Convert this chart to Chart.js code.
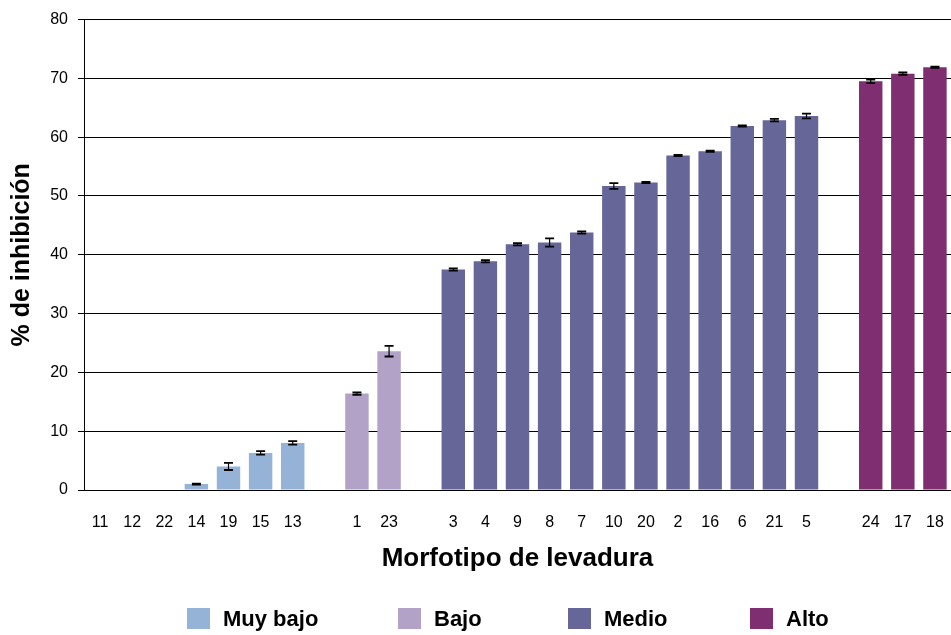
<!DOCTYPE html>
<html lang="es">
<head>
<meta charset="utf-8">
<title>% de inhibición por morfotipo de levadura</title>
<script src="https://cdn.jsdelivr.net/npm/chart.js@4.4.1/dist/chart.umd.min.js"></script>
<style>
  html, body { margin: 0; padding: 0; background: #fff; }
  canvas { display: block; }
</style>
</head>
<body>
<canvas id="inhibicion" width="951" height="635"></canvas>
<script>
// Morfotipos por clase de inhibición, en el orden en que se grafican
const muyBajoIds = ['11', '12', '22', '14', '19', '15', '13'];
const muyBajoValues = [0, 0, 0, 1.0, 4.0, 6.3, 8.0];
const muyBajoErrors = [0, 0, 0, 0.1, 0.6, 0.3, 0.3];

const bajoIds = ['1', '23'];
const bajoValues = [16.4, 23.6];
const bajoErrors = [0.2, 0.9];

const medioIds = ['3', '4', '9', '8', '7', '10', '20', '2', '16', '6', '21', '5'];
const medioValues = [37.5, 38.9, 41.8, 42.1, 43.8, 51.7, 52.3, 56.9, 57.6, 61.9, 62.9, 63.6];
const medioErrors = [0.2, 0.2, 0.2, 0.7, 0.2, 0.5, 0.1, 0.1, 0.1, 0.1, 0.2, 0.4];

const altoIds = ['24', '17', '18'];
const altoValues = [69.5, 70.8, 71.9];
const altoErrors = [0.3, 0.2, 0.1];

const groups = [
  { label: 'Muy bajo', ids: muyBajoIds, values: muyBajoValues, errors: muyBajoErrors, color: '#95b3d7' },
  { label: 'Bajo', ids: bajoIds, values: bajoValues, errors: bajoErrors, color: '#b3a2c7' },
  { label: 'Medio', ids: medioIds, values: medioValues, errors: medioErrors, color: '#666699' },
  { label: 'Alto', ids: altoIds, values: altoValues, errors: altoErrors, color: '#7f2f71' }
];

// one empty category between classes leaves the gap on the axis
const categories = [];
const offsets = [];
groups.forEach((g, i) => {
  if (i > 0) categories.push('');
  offsets.push(categories.length);
  categories.push(...g.ids);
});

const datasets = groups.map((g, i) => {
  const data = new Array(categories.length).fill(null);
  const errors = new Array(categories.length).fill(null);
  g.values.forEach((v, j) => {
    data[offsets[i] + j] = v;
    errors[offsets[i] + j] = g.errors[j];
  });
  return {
    label: g.label,
    data: data,
    errors: errors,
    backgroundColor: g.color,
    borderWidth: 0,
    grouped: false,
    barPercentage: 0.73,
    categoryPercentage: 1
  };
});

// vertical error bars with caps, drawn on top of the bars
const errorBars = {
  id: 'errorBars',
  afterDatasetsDraw(chart) {
    const ctx = chart.ctx;
    const y = chart.scales.y;
    ctx.save();
    ctx.strokeStyle = '#000';
    chart.data.datasets.forEach((ds, di) => {
      const meta = chart.getDatasetMeta(di);
      meta.data.forEach((bar, i) => {
        const v = ds.data[i];
        const e = ds.errors[i];
        if (v == null || !e) return;
        const top = y.getPixelForValue(v + e);
        const bottom = y.getPixelForValue(v - e);
        ctx.lineWidth = 1.2;
        ctx.beginPath();
        ctx.moveTo(bar.x, top);
        ctx.lineTo(bar.x, bottom);
        ctx.stroke();
        ctx.lineWidth = 1.8;
        ctx.beginPath();
        ctx.moveTo(bar.x - 4.5, top);
        ctx.lineTo(bar.x + 4.5, top);
        ctx.moveTo(bar.x - 4.5, bottom);
        ctx.lineTo(bar.x + 4.5, bottom);
        ctx.stroke();
      });
    });
    ctx.restore();
  }
};

// legend row under the axis title
const legendX = [187, 398, 568, 750];
const legendY = 619;
const legendRow = {
  id: 'legendRow',
  afterDraw(chart) {
    const ctx = chart.ctx;
    ctx.save();
    ctx.font = 'bold 22px "Liberation Sans", Arial, sans-serif';
    ctx.textBaseline = 'middle';
    chart.data.datasets.forEach((ds, i) => {
      ctx.fillStyle = ds.backgroundColor;
      ctx.fillRect(legendX[i], legendY - 11, 23, 21);
      ctx.fillStyle = '#000';
      ctx.fillText(ds.label, legendX[i] + 36, legendY + 1);
    });
    ctx.restore();
  }
};

Chart.defaults.font.family = '"Liberation Sans", Arial, sans-serif';
Chart.defaults.color = '#000';

new Chart(document.getElementById('inhibicion'), {
  type: 'bar',
  data: {
    labels: categories,
    datasets: datasets
  },
  options: {
    responsive: false,
    animation: false,
    layout: {
      autoPadding: false,
      padding: { top: 18, right: 0, bottom: 0, left: 0 }
    },
    plugins: {
      legend: { display: false },
      tooltip: { enabled: false }
    },
    scales: {
      x: {
        grid: { display: false },
        border: { color: '#000', width: 1 },
        ticks: {
          font: { size: 16 },
          padding: 15,
          autoSkip: false,
          maxRotation: 0
        },
        title: {
          display: true,
          text: 'Morfotipo de levadura',
          font: { size: 26, weight: 'bold' },
          padding: { top: 0, bottom: 61 }
        },
        afterFit(scale) {
          scale.height = 145;
          // the plot runs right to the canvas edge
          scale.paddingLeft = 0;
          scale.paddingRight = 0;
        }
      },
      y: {
        min: 0,
        max: 80,
        ticks: {
          stepSize: 10,
          font: { size: 16 },
          padding: 10
        },
        grid: {
          color: '#000',
          lineWidth: 1,
          tickLength: 6
        },
        border: { color: '#000', width: 1 },
        title: {
          display: true,
          text: '% de inhibición',
          font: { size: 25, weight: 'bold' },
          padding: { top: 7, bottom: 0 }
        },
        afterFit(scale) {
          scale.width = 84;
        }
      }
    }
  },
  plugins: [errorBars, legendRow]
});
</script>
</body>
</html>
